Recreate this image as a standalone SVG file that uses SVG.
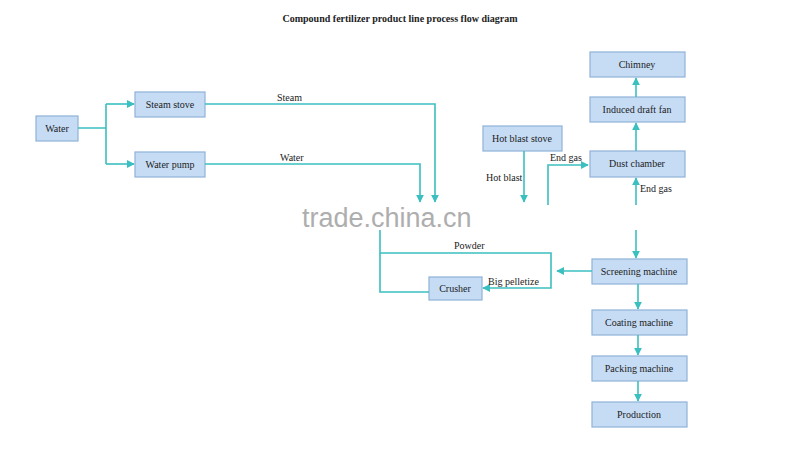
<svg xmlns="http://www.w3.org/2000/svg" width="800" height="458" viewBox="0 0 800 458">
<style>
.b{fill:#c6dcf5;stroke:#8fb2d8;stroke-width:1.2}
.t{font-family:"Liberation Serif",serif;font-size:10px;fill:#222;text-anchor:middle}
.l{font-family:"Liberation Serif",serif;font-size:10px;fill:#222}
.c{fill:none;stroke:#3bbfc0;stroke-width:1.6}
</style>
<defs><marker id="a" viewBox="0 0 10 10" refX="9" refY="5" markerWidth="5" markerHeight="5" orient="auto"><path d="M0,0L10,5L0,10z" fill="#3bbfc0"/></marker></defs>
<rect width="800" height="458" fill="#fff"/>
<text x="400" y="22" class="t" font-weight="bold">Compound fertilizer product line process flow diagram</text>
<g id="water"><rect class="b" x="36" y="116" width="42" height="25"/><text class="t" x="57" y="132">Water</text></g>
<g id="steamstove"><rect class="b" x="135" y="92" width="70" height="25"/><text class="t" x="170" y="108">Steam stove</text></g>
<g id="waterpump"><rect class="b" x="135" y="152" width="70" height="25"/><text class="t" x="170" y="168">Water pump</text></g>
<g id="hotblast"><rect class="b" x="483" y="126" width="79" height="25"/><text class="t" x="522" y="142">Hot blast stove</text></g>
<g id="chimney"><rect class="b" x="590" y="52" width="95" height="25"/><text class="t" x="637" y="68">Chimney</text></g>
<g id="fan"><rect class="b" x="590" y="97" width="95" height="25"/><text class="t" x="637" y="113">Induced draft fan</text></g>
<g id="dust"><rect class="b" x="590" y="151" width="95" height="26"/><text class="t" x="637" y="167">Dust chamber</text></g>
<g id="screen"><rect class="b" x="592" y="259" width="95" height="25"/><text class="t" x="639" y="275">Screening machine</text></g>
<g id="coat"><rect class="b" x="592" y="310" width="95" height="25"/><text class="t" x="639" y="326">Coating machine</text></g>
<g id="pack"><rect class="b" x="592" y="356" width="95" height="25"/><text class="t" x="639" y="372">Packing machine</text></g>
<g id="prod"><rect class="b" x="592" y="402" width="95" height="25"/><text class="t" x="639" y="418">Production</text></g>
<g id="crusher"><rect class="b" x="429" y="277" width="53" height="23"/><text class="t" x="455" y="292">Crusher</text></g>
<g id="connectors">
<path class="c" d="M78,128H106M106,104V164"/>
<path class="c" d="M106,104H134" marker-end="url(#a)"/>
<path class="c" d="M106,164H134" marker-end="url(#a)"/>
<path class="c" d="M205,104H435V202" marker-end="url(#a)"/>
<path class="c" d="M205,164H420V202" marker-end="url(#a)"/>
<path class="c" d="M524,151V202" marker-end="url(#a)"/>
<path class="c" d="M548,205V165H588" marker-end="url(#a)"/>
<path class="c" d="M636,205V178" marker-end="url(#a)"/>
<path class="c" d="M636,151V123" marker-end="url(#a)"/>
<path class="c" d="M636,97V78" marker-end="url(#a)"/>
<path class="c" d="M636,230V258" marker-end="url(#a)"/>
<path class="c" d="M638,284V309" marker-end="url(#a)"/>
<path class="c" d="M638,335V355" marker-end="url(#a)"/>
<path class="c" d="M638,381V401" marker-end="url(#a)"/>
<path class="c" d="M592,271H557" marker-end="url(#a)"/>
<path class="c" d="M380,230V253H551V288H483" marker-end="url(#a)"/>
<path class="c" d="M429,292H380V253"/>
</g>
<text class="l" x="277" y="101">Steam</text>
<text class="l" x="280" y="161">Water</text>
<text class="l" x="486" y="181">Hot blast</text>
<text class="l" x="550" y="161">End gas</text>
<text class="l" x="640" y="192">End gas</text>
<text class="l" x="454" y="249">Powder</text>
<text class="l" x="488" y="285">Big pelletize</text>
<text x="302" y="227" font-family="Liberation Sans,sans-serif" font-size="27" fill="#9a9a9a" opacity="0.8">trade.china.cn</text>
</svg>
